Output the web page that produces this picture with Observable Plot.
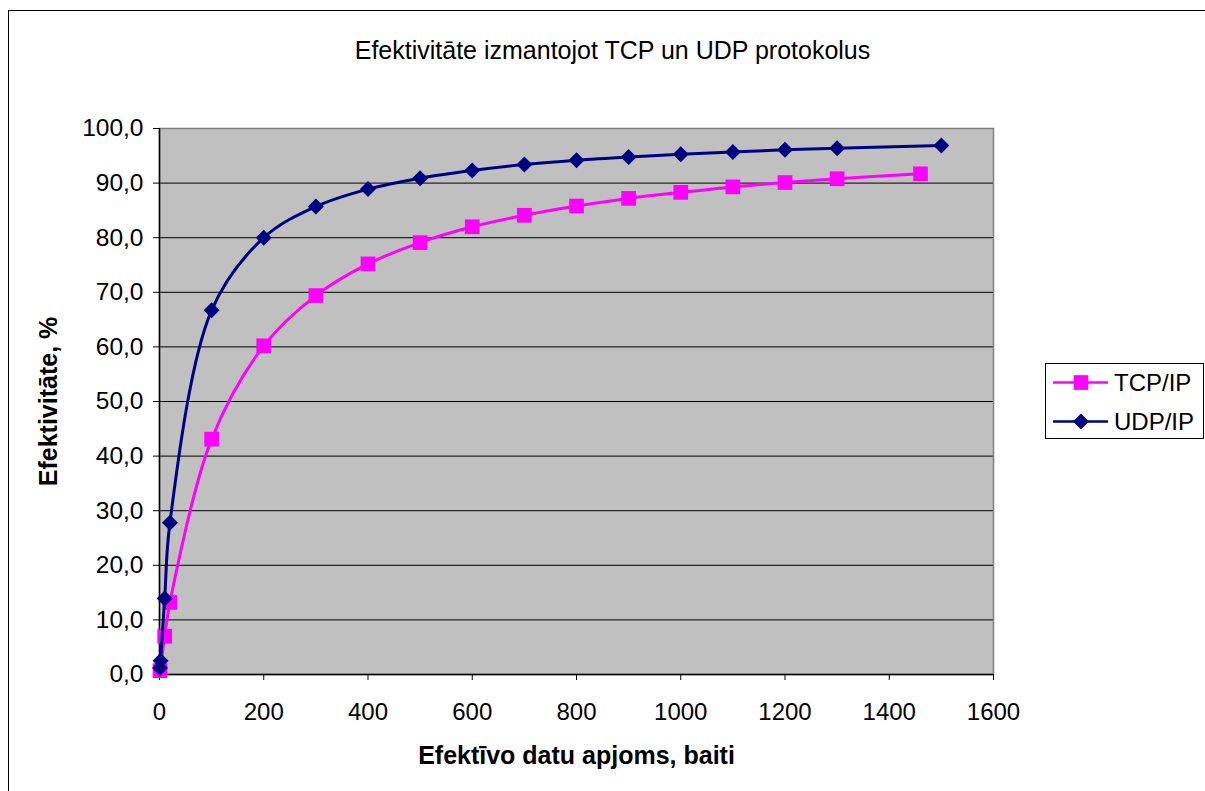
<!DOCTYPE html>
<html>
<head>
<meta charset="utf-8">
<script src="https://cdn.jsdelivr.net/npm/d3@7"></script>
<script src="https://cdn.jsdelivr.net/npm/@observablehq/plot@0.6"></script>
<style>
  html, body { margin: 0; padding: 0; background: #fff; overflow: hidden; }
  #wrap { position: relative; width: 1205px; height: 791px; overflow: hidden; font-family: "Liberation Sans", Arial, sans-serif; }
  #border { position: absolute; left: 8px; top: 10px; width: 1300px; height: 900px; border: 1px solid #000; box-sizing: border-box; }
  #chart { position: absolute; left: 0; top: 0; }
</style>
</head>
<body>
<div id="wrap"><div id="border"></div><div id="chart"></div></div>
<script>
const titleText = "Efektivitāte izmantojot TCP un UDP protokolus";
const xLabel = "Efektīvo datu apjoms, baiti";
const yLabel = "Efektivitāte, %";
const seriesNames = ["TCP/IP", "UDP/IP"];
const xTicks = [0, 200, 400, 600, 800, 1000, 1200, 1400, 1600];
const yTicks = [0, 10, 20, 30, 40, 50, 60, 70, 80, 90, 100];

const tcpX = [1, 10, 20, 100, 200, 300, 400, 500, 600, 700, 800, 900, 1000, 1100, 1200, 1300, 1460];
const tcpY = [0.7, 7.0, 13.2, 43.1, 60.2, 69.4, 75.2, 79.1, 82.0, 84.1, 85.8, 87.2, 88.3, 89.3, 90.1, 90.8, 91.7];
const udpX = [1, 2, 10, 20, 100, 200, 300, 400, 500, 600, 700, 800, 900, 1000, 1100, 1200, 1300, 1500];
const udpY = [1.2, 2.5, 13.9, 27.8, 66.7, 80.0, 85.7, 88.9, 90.9, 92.3, 93.4, 94.2, 94.8, 95.3, 95.7, 96.1, 96.4, 96.9];

const tcp = tcpX.map((x, i) => ({x, y: tcpY[i]}));
const udp = udpX.map((x, i) => ({x, y: udpY[i]}));
const tcpColor = "#FF00FF", udpColor = "#000080";
const fmtY = d => d.toFixed(1).replace(".", ",");
const sqR = 8.3, diaR = 7.2;

const plot = Plot.plot({
  width: 1205, height: 791,
  marginLeft: 159, marginRight: 212, marginTop: 128, marginBottom: 117,
  style: {fontFamily: "'Liberation Sans', Arial, sans-serif", fontSize: "24px", background: "transparent", color: "#000", overflow: "visible"},
  x: {domain: [0, 1600]},
  y: {domain: [0, 100]},
  marks: [
    Plot.frame({fill: "#C0C0C0"}),
    Plot.gridY(yTicks, {stroke: "#000", strokeOpacity: 1, strokeWidth: 1}),
    Plot.frame({stroke: "#808080", strokeWidth: 1.5}),
    Plot.ruleX([0], {stroke: "#000", strokeWidth: 1.5}),
    Plot.ruleY([0], {stroke: "#000", strokeWidth: 1.5}),
    Plot.axisX(xTicks, {tickSize: 6, tickPadding: 22, label: null, tickFormat: d => String(d), fontSize: 24}),
    Plot.axisY(yTicks, {tickSize: 6, tickPadding: 10, label: null, tickFormat: fmtY, fontSize: 24.5}),
    Plot.line(tcp, {x: "x", y: "y", stroke: tcpColor, strokeWidth: 3, curve: "catmull-rom"}),
    Plot.dot(tcp, {x: "x", y: "y", symbol: "square", fill: tcpColor, stroke: "none", r: sqR}),
    Plot.line(udp, {x: "x", y: "y", stroke: udpColor, strokeWidth: 3, curve: "catmull-rom"}),
    Plot.dot(udp, {x: "x", y: "y", symbol: "diamond2", fill: udpColor, stroke: "none", r: diaR}),
    Plot.text([titleText], {frameAnchor: "top", lineAnchor: "middle", textAnchor: "middle", dx: 36, dy: -78, fontSize: 25}),
    Plot.text([xLabel], {frameAnchor: "bottom", lineAnchor: "middle", textAnchor: "middle", dy: 81, fontSize: 25, fontWeight: "bold"}),
    Plot.text([yLabel], {frameAnchor: "left", lineAnchor: "middle", textAnchor: "middle", rotate: -90, dx: -111, fontSize: 25, fontWeight: "bold"})
  ]
});
document.getElementById("chart").appendChild(plot);

// Legend drawn inside the SVG
const svg = d3.select(plot);
const lg = svg.append("g").attr("font-family", "'Liberation Sans', Arial, sans-serif").attr("font-size", 24).attr("text-anchor", "start");
lg.append("rect").attr("x", 1045.5).attr("y", 363.5).attr("width", 158).attr("height", 75)
  .attr("fill", "#fff").attr("stroke", "#000").attr("stroke-width", 1);
const rows = [
  {name: seriesNames[0], color: tcpColor, sym: d3.symbolSquare, size: Math.PI * sqR * sqR, cy: 382.5},
  {name: seriesNames[1], color: udpColor, sym: d3.symbolDiamond2, size: Math.PI * diaR * diaR, cy: 421.5}
];
rows.forEach(r => {
  lg.append("line").attr("x1", 1053).attr("x2", 1108).attr("y1", r.cy).attr("y2", r.cy)
    .attr("stroke", r.color).attr("stroke-width", 2.5);
  lg.append("path").attr("d", d3.symbol(r.sym, r.size)()).attr("transform", `translate(1081,${r.cy})`).attr("fill", r.color);
  lg.append("text").attr("x", 1114).attr("y", r.cy).attr("dy", "0.35em").attr("text-anchor", "start").attr("fill", "#000").text(r.name);
});
</script>
</body>
</html>
